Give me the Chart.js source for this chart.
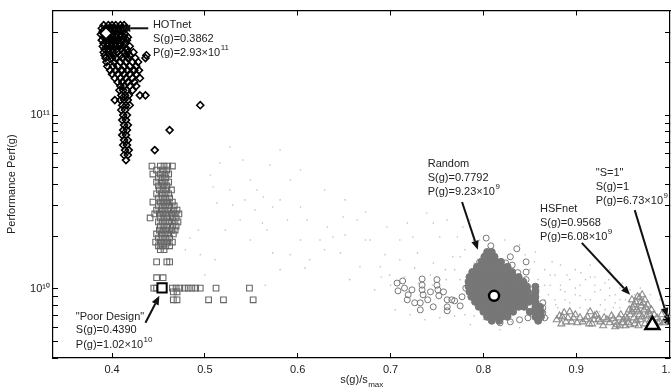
<!DOCTYPE html>
<html><head><meta charset="utf-8">
<script src="https://cdn.jsdelivr.net/npm/chart.js@4"></script>
<style>html,body{margin:0;padding:0;background:#fff;}canvas{display:block;}</style>
</head><body>
<canvas id="c" width="671" height="388"></canvas>
<script>
// ---------------- DATA ----------------
const xTickValues = [0.4, 0.5, 0.6, 0.7, 0.8, 0.9, 1.0];
const yTickValues = [4e9,5e9,6e9,7e9,8e9,9e9,1e10,2e10,3e10,4e10,5e10,6e10,7e10,8e10,9e10,1e11,2e11,3e11,4e11];
const yTickLabels = {1e10: '10\u00B9\u2070', 1e11: '10\u00B9\u00B9'};

// HOTnet family (rows: [Perf, [s/smax ...]])
const hotnetRows = [
 [3.29e11,[0.391,0.396,0.400,0.404,0.409,0.413]],
 [3.16e11,[0.389,0.394,0.398,0.402,0.406,0.411,0.415]],
 [3.04e11,[0.390,0.395,0.399,0.403,0.408,0.412]],
 [2.92e11,[0.388,0.392,0.397,0.401,0.405,0.410,0.414]],
 [2.81e11,[0.391,0.396,0.400,0.404,0.409,0.413,0.417]],
 [2.70e11,[0.389,0.394,0.398,0.402,0.406,0.411,0.416]],
 [2.59e11,[0.391,0.396,0.400,0.404,0.409,0.414]],
 [2.49e11,[0.390,0.395,0.399,0.403,0.408,0.412,0.419]],
 [2.40e11,[0.392,0.397,0.401,0.405,0.410,0.416]],
 [2.30e11,[0.391,0.396,0.400,0.406,0.413,0.417,0.423]],
 [2.21e11,[0.392,0.398,0.402,0.409,0.415,0.419,0.437]],
 [2.13e11,[0.393,0.400,0.404,0.411,0.417,0.425,0.436]],
 [2.02e11,[0.394,0.402,0.409,0.415,0.422,0.428]],
 [1.91e11,[0.395,0.401,0.406,0.413,0.419,0.426]],
 [1.81e11,[0.398,0.404,0.411,0.417,0.424,0.429]],
 [1.72e11,[0.400,0.406,0.413,0.419,0.426]],
 [1.63e11,[0.403,0.409,0.415,0.422,0.430]],
 [1.55e11,[0.406,0.411,0.417,0.424]],
 [1.47e11,[0.409,0.413,0.419,0.426]],
 [1.39e11,[0.408,0.412,0.416,0.422]],
 [1.30e11,[0.410,0.414,0.418,0.430,0.436]],
 [1.22e11,[0.403,0.409,0.413,0.417]],
 [1.14e11,[0.411,0.415,0.419,0.495]],
 [1.07e11,[0.410,0.414]],
 [1.00e11,[0.412,0.416]],
 [9.36e10,[0.411,0.415]],
 [8.76e10,[0.413,0.417]],
 [8.20e10,[0.412,0.416,0.462]],
 [7.67e10,[0.411,0.415]],
 [7.18e10,[0.413,0.417]],
 [6.72e10,[0.412,0.416]],
 [6.29e10,[0.414,0.418,0.446]],
 [5.89e10,[0.413,0.417]],
 [5.51e10,[0.415]]
];

// "Poor Design" family (squares)
const poorRows = [
 [5.09e10,[0.443,0.452,0.456,0.460,0.465]],
 [4.83e10,[0.448,0.455,0.459]],
 [4.58e10,[0.444,0.452,0.457,0.461]],
 [4.35e10,[0.450,0.454,0.458]],
 [4.12e10,[0.448,0.453,0.457,0.461]],
 [3.91e10,[0.450,0.455,0.459]],
 [3.71e10,[0.451,0.455,0.459,0.464]],
 [3.52e10,[0.448,0.453,0.457,0.461]],
 [3.33e10,[0.450,0.454,0.458,0.462]],
 [3.16e10,[0.444,0.452,0.456,0.460,0.465]],
 [3.00e10,[0.450,0.454,0.458,0.462,0.467]],
 [2.84e10,[0.448,0.453,0.457,0.461,0.466,0.470]],
 [2.70e10,[0.446,0.451,0.455,0.459,0.464,0.468,0.472]],
 [2.56e10,[0.441,0.452,0.456,0.460,0.465,0.469]],
 [2.43e10,[0.450,0.454,0.458,0.462,0.467,0.471]],
 [2.30e10,[0.452,0.456,0.460,0.465,0.469]],
 [2.18e10,[0.451,0.455,0.459,0.464,0.468]],
 [2.07e10,[0.448,0.453,0.457,0.461,0.466]],
 [1.96e10,[0.450,0.454,0.458,0.462]],
 [1.86e10,[0.447,0.452,0.456,0.460,0.465]],
 [1.77e10,[0.450,0.454,0.458,0.462]],
 [1.68e10,[0.452,0.456]],
 [1.43e10,[0.448,0.459,0.462]],
 [1.16e10,[0.448,0.455]],
 [1.01e10,[0.445,0.448,0.465,0.469,0.473,0.478,0.482,0.486,0.490,0.495,0.512,0.548]],
 [9.61e9,[0.466,0.470]],
 [8.65e9,[0.466,0.470,0.504,0.520,0.552]]
];

// Random family: dense core and scattered outer circles
const randomCoreRows = [
 [1.63e10,[0.804,0.809]],
 [1.53e10,[0.801,0.806,0.812]],
 [1.43e10,[0.798,0.803,0.808,0.814,0.819]],
 [1.34e10,[0.793,0.799,0.804,0.809,0.815,0.820,0.826]],
 [1.25e10,[0.788,0.793,0.799,0.804,0.809,0.815,0.820,0.826,0.831]],
 [1.17e10,[0.785,0.790,0.795,0.801,0.806,0.811,0.817,0.822,0.828,0.833,0.838]],
 [1.10e10,[0.784,0.789,0.794,0.800,0.805,0.810,0.816,0.821,0.827,0.832,0.837,0.843]],
 [1.03e10,[0.784,0.789,0.794,0.800,0.805,0.810,0.816,0.821,0.827,0.832,0.837,0.843,0.847,0.856]],
 [9.61e9,[0.785,0.790,0.795,0.801,0.806,0.811,0.817,0.822,0.828,0.833,0.838,0.844,0.848,0.856]],
 [9.00e9,[0.787,0.792,0.797,0.803,0.808,0.814,0.819,0.824,0.830,0.835,0.841,0.846,0.850,0.856]],
 [8.42e9,[0.791,0.796,0.802,0.807,0.813,0.818,0.823,0.829,0.834,0.839,0.845,0.849,0.856]],
 [7.88e9,[0.795,0.801,0.806,0.811,0.817,0.822,0.828,0.833,0.838,0.844,0.856,0.861]],
 [7.38e9,[0.800,0.805,0.810,0.816,0.821,0.827,0.832,0.850,0.857,0.862]],
 [6.90e9,[0.804,0.809,0.815,0.820,0.826,0.856,0.862]],
 [6.55e9,[0.809,0.817,0.859]]
];
const randomOuter = [
 [0.707,1.08e10],[0.708,9.74e9],[0.713,1.11e10],[0.715,1.01e10],[0.719,9.24e9],[0.718,8.65e9],
 [0.726,8.31e9],[0.732,8.31e9],[0.732,7.57e9],[0.734,1.14e10],[0.734,1.05e10],[0.734,9.87e9],
 [0.735,9.24e9],[0.743,9.61e9],[0.740,8.65e9],[0.746,7.88e9],[0.750,1.13e10],[0.750,1.05e10],
 [0.751,9.87e9],[0.752,9.12e9],[0.757,9.61e9],[0.761,8.65e9],[0.761,7.88e9],[0.766,8.65e9],
 [0.769,8.53e9],[0.775,7.98e9],[0.761,7.48e9],[0.723,9.87e9],[0.781,1.01e10],[0.777,9.00e9],
 [0.803,1.96e10],[0.808,1.77e10],[0.836,1.70e10],[0.829,1.53e10],[0.846,1.43e10],[0.818,1.34e10],
 [0.824,1.41e10],[0.831,1.37e10],[0.837,1.24e10],[0.846,1.25e10],[0.846,1.13e10],[0.796,1.43e10],
 [0.792,1.29e10],[0.856,1.01e10],[0.856,9.48e9],[0.856,8.88e9],[0.856,8.31e9],[0.856,7.78e9],
 [0.864,8.31e9],[0.864,7.78e9],[0.864,7.28e9],[0.858,7.09e9],[0.850,7.38e9],[0.866,6.81e9],
 [0.848,6.81e9],[0.839,6.64e9],[0.829,6.46e9],[0.818,6.38e9]
];

// HSFnet family (triangles)
const hsfPoints = [
 [0.879,6.64e9],[0.885,6.90e9],[0.889,6.46e9],[0.893,7.38e9],[0.897,6.81e9],[0.901,6.38e9],
 [0.884,6.29e9],[0.912,6.90e9],[0.915,7.38e9],[0.919,6.64e9],[0.922,7.09e9],[0.926,6.46e9],
 [0.917,6.29e9],[0.933,6.64e9],[0.938,6.99e9],[0.942,6.46e9],[0.946,6.81e9],[0.950,6.38e9],
 [0.955,6.73e9],[0.958,7.09e9],[0.961,7.78e9],[0.964,8.42e9],[0.968,8.88e9],[0.971,9.24e9],
 [0.974,8.65e9],[0.977,8.09e9],[0.981,7.57e9],[0.984,7.09e9],[0.987,6.81e9],[0.990,6.46e9],
 [0.962,6.81e9],[0.967,7.38e9],[0.970,7.98e9],[0.973,7.57e9],[0.976,6.99e9],[0.969,6.64e9],
 [0.963,6.29e9],[0.974,6.29e9],[0.980,6.64e9],[0.985,6.21e9],[0.958,6.21e9],[0.953,6.13e9],
 [0.992,7.09e9],[0.996,6.64e9],[0.999,6.81e9],[0.947,6.13e9],[0.942,6.05e9],[0.929,6.13e9],
 [0.904,6.81e9],[0.907,6.46e9],[0.930,6.81e9],[0.957,7.57e9],[0.960,8.65e9],[0.966,9.00e9],
 [0.972,8.31e9],[0.978,7.38e9],[0.960,7.38e9],[0.953,6.90e9],[0.948,7.09e9],
 [0.882,6.99e9],[0.887,7.28e9],[0.891,6.81e9],[0.895,6.46e9],[0.899,7.09e9],[0.910,6.64e9],
 [0.914,6.29e9],[0.920,6.99e9],[0.924,6.64e9],[0.936,6.38e9],[0.940,6.73e9],[0.944,6.21e9],
 [0.951,6.64e9],[0.956,6.38e9],[0.965,6.55e9],[0.967,6.13e9],[0.971,6.90e9],[0.975,7.78e9],
 [0.979,7.09e9],[0.983,6.55e9],[0.988,6.38e9],[0.994,6.38e9],[0.962,8.09e9],[0.965,7.57e9],
 [0.969,8.31e9],[0.968,7.09e9]
];

// light grey cloud of other designs
const otherPoints = [
 [0.516,5.30e10],[0.506,4.52e10],[0.509,3.86e10],[0.513,3.12e10],[0.530,3.04e10],[0.556,3.71e10],
 [0.563,3.38e10],[0.562,2.39e10],[0.567,2.18e10],[0.573,1.61e10],[0.603,1.91e10],[0.632,2.27e10],
 [0.638,1.99e10],[0.649,2.59e10],[0.664,2.49e10],[0.673,2.77e10],[0.678,1.91e10],[0.696,2.27e10],
 [0.710,1.91e10],[0.718,2.39e10],[0.724,1.99e10],[0.739,2.73e10],[0.746,2.39e10],[0.753,1.99e10],
 [0.761,2.49e10],[0.772,1.99e10],[0.778,2.27e10],[0.786,2.49e10],[0.789,1.91e10],[0.767,1.53e10],
 [0.746,1.41e10],[0.729,1.61e10],[0.689,1.34e10],[0.667,1.34e10],[0.646,1.61e10],[0.624,1.91e10],
 [0.589,2.49e10],[0.573,2.96e10],[0.549,4.23e10],[0.541,5.51e10],[0.527,6.55e10],[0.603,2.96e10],
 [0.610,2.49e10],[0.484,1.96e10],[0.479,1.68e10],[0.495,1.57e10],[0.527,3.71e10],[0.581,3.25e10],
 [0.613,1.47e10],[0.656,1.13e10],[0.683,9.87e9],[0.699,1.20e10],[0.705,7.57e9],[0.721,7.09e9],
 [0.737,6.64e9],[0.753,6.81e9],[0.769,6.99e9],[0.786,6.21e9],[0.818,5.81e9],[0.839,5.97e9],
 [0.866,8.65e9],[0.872,1.05e10],[0.877,1.20e10],[0.883,9.87e9],[0.888,8.65e9],[0.893,1.13e10],
 [0.899,9.24e9],[0.904,1.05e10],[0.910,8.65e9],[0.915,1.17e10],[0.920,9.61e9],[0.926,8.09e9],
 [0.931,1.08e10],[0.936,9.12e9],[0.942,8.31e9],[0.947,1.01e10],[0.953,8.65e9],[0.958,9.87e9],
 [0.866,1.29e10],[0.874,1.43e10],[0.859,1.13e10],[0.850,1.29e10],[0.845,1.57e10],[0.883,1.37e10],
 [0.899,1.29e10],[0.915,1.37e10],[0.861,7.57e9],[0.870,6.81e9],[0.878,8.09e9],[0.886,7.57e9],
 [0.904,7.78e9],[0.931,7.57e9],[0.947,7.78e9],[0.969,1.01e10],[0.980,9.24e9],[0.990,8.65e9],
 [0.996,8.09e9],[0.936,1.29e10],[0.856,1.63e10],[0.839,1.79e10],[0.823,1.91e10],[0.796,1.91e10],
 [0.780,1.68e10],[0.769,1.29e10],[0.775,1.13e10],[0.759,1.29e10],[0.743,1.20e10],[0.726,1.32e10],
 [0.710,1.47e10],[0.694,1.57e10],[0.673,1.91e10],[0.651,2.04e10],[0.629,1.68e10],[0.608,1.32e10],
 [0.592,1.57e10],[0.581,1.29e10],[0.565,1.05e10],[0.549,1.91e10],[0.538,2.49e10],[0.522,2.18e10],
 [0.511,1.47e10],[0.500,1.20e10],[0.493,2.18e10],[0.570,5.16e10],[0.592,4.23e10],[0.629,3.71e10],
 [0.651,3.25e10],[0.581,6.29e10],[0.603,4.83e10],[0.543,3.25e10],[0.554,2.84e10],
 [0.870,9.24e9],[0.877,8.65e9],[0.883,1.05e10],[0.888,9.61e9],[0.893,8.31e9],[0.899,1.01e10],
 [0.904,9.12e9],[0.910,1.13e10],[0.915,8.65e9],[0.920,1.05e10],[0.926,9.87e9],[0.931,8.65e9],
 [0.936,1.01e10],[0.942,9.24e9],[0.947,8.65e9],[0.953,9.61e9],[0.958,8.31e9],[0.963,9.24e9],
 [0.880,7.78e9],[0.895,7.38e9],[0.912,7.57e9],[0.925,7.38e9],[0.940,7.78e9],[0.955,7.57e9],
 [0.866,1.05e10],[0.872,1.20e10],[0.890,1.20e10],[0.905,1.24e10],[0.920,1.17e10],[0.935,1.13e10],
 [0.950,1.08e10],[0.790,1.41e10],[0.775,1.53e10],[0.760,1.13e10],[0.745,1.05e10],[0.730,1.08e10],
 [0.715,1.17e10],[0.700,1.05e10],[0.690,1.17e10],[0.780,7.09e9],[0.800,6.64e9],[0.830,6.46e9],
 [0.850,6.99e9],[0.860,9.87e9],[0.845,1.13e10],[0.855,1.43e10],[0.790,6.99e9]
];

// highlighted designs
const hotnetBest = [[0.3935, 2.96e11]];
const poorDesign = [[0.4539, 1.013e10]];
const randomBest = [[0.8115, 9.12e9]];
const hsfBest = [[0.982, 6.2e9]];
const sOne = [[0.999, 6.64e9]];

// annotations: text lines, superscript of last line, text anchor, arrow tail and head (data units)
const annotations = [
 {lines:['HOTnet','S(g)=0.3862','P(g)=2.93\u00D710'], exp:'11', at:[0.444,3.29e11], from:[0.439,3.16e11], to:[0.410,3.16e11]},
 {lines:['"Poor Design"','S(g)=0.4390','P(g)=1.02\u00D710'], exp:'10', at:[0.361,6.90e9], from:[0.436,6.38e9], to:[0.451,9.12e9]},
 {lines:['Random','S(g)=0.7792','P(g)=9.23\u00D710'], exp:'9', at:[0.740,5.23e10], from:[0.777,3.16e10], to:[0.794,1.68e10]},
 {lines:['HSFnet','S(g)=0.9568','P(g)=6.08\u00D710'], exp:'9', at:[0.861,2.88e10], from:[0.906,1.84e10], to:[0.958,9.24e9]},
 {lines:['"S=1"','S(g)=1','P(g)=6.73\u00D710'], exp:'9', at:[0.921,4.64e10], from:[0.963,2.84e10], to:[0.998,6.90e9]}
];
const xTitle = ['s(g)/s', 'max'];
const yTitle = 'Performance Perf(g)';

// ---------------- BUILD ----------------
const FONT = "'Liberation Sans', Arial, Helvetica, sans-serif";
const PLOT_RIGHT = 670;
const rowsToPts = rows => { const p = []; rows.forEach(([y, xs]) => xs.forEach(x => p.push({x, y}))); return p; };
const pairsToPts = arr => arr.map(([x, y]) => ({x, y}));

Chart.defaults.font.family = FONT;
Chart.defaults.font.size = 11;
Chart.defaults.color = '#222';

const setTicks = vals => scale => { scale.ticks = vals.map(v => ({value: v})); };

// keep the plot frame's right edge at the canvas edge (as in the reference, where "1.0" is clipped)
const rightEdgePlugin = {
  id: 'rightEdge',
  afterLayout(chart) {
    const ca = chart.chartArea;
    const R = PLOT_RIGHT;
    ca.right = R; ca.width = R - ca.left;
    ['x', 'xTop'].forEach(id => { const s = chart.scales[id]; s.right = R; s.width = R - s.left; s.configure(); });
    const yr = chart.scales.yRight; yr.left = R; yr.right = R; yr.width = 0; yr.configure();
  }
};

const annotPlugin = {
  id: 'annot',
  afterDatasetsDraw(chart) {
    const {ctx, scales: {x, y}, chartArea} = chart;
    ctx.save();
    const offs = [0, 13.5, 28];
    annotations.forEach(a => {
      const x1 = x.getPixelForValue(a.from[0]), y1 = y.getPixelForValue(a.from[1]);
      const x2 = x.getPixelForValue(a.to[0]), y2 = y.getPixelForValue(a.to[1]);
      const ang = Math.atan2(y2 - y1, x2 - x1);
      const hl = 9, hw = 3.8;
      const bx = x2 - hl * Math.cos(ang), by = y2 - hl * Math.sin(ang);
      ctx.strokeStyle = '#111'; ctx.lineWidth = 2;
      ctx.beginPath(); ctx.moveTo(x1, y1); ctx.lineTo(bx, by); ctx.stroke();
      ctx.fillStyle = '#111';
      ctx.beginPath(); ctx.moveTo(x2, y2);
      ctx.lineTo(bx + hw * Math.sin(ang), by - hw * Math.cos(ang));
      ctx.lineTo(bx - hw * Math.sin(ang), by + hw * Math.cos(ang));
      ctx.closePath(); ctx.fill();
      const tx = x.getPixelForValue(a.at[0]), ty = y.getPixelForValue(a.at[1]);
      ctx.fillStyle = '#222'; ctx.textBaseline = 'middle'; ctx.textAlign = 'left';
      a.lines.forEach((ln, i) => {
        ctx.font = '11px ' + FONT;
        ctx.fillText(ln, tx, ty + offs[i]);
        if (i === a.lines.length - 1) {
          const w = ctx.measureText(ln).width;
          ctx.font = '8px ' + FONT;
          ctx.fillText(a.exp, tx + w + 0.5, ty + offs[i] - 5);
        }
      });
    });
    // x axis title with subscript
    ctx.fillStyle = '#222'; ctx.textBaseline = 'middle'; ctx.textAlign = 'left';
    ctx.font = '11px ' + FONT;
    const w1 = ctx.measureText(xTitle[0]).width;
    ctx.font = '8px ' + FONT;
    const w2 = ctx.measureText(xTitle[1]).width;
    const cx = (chartArea.left + chartArea.right) / 2;
    const sx = cx - (w1 + w2) / 2;
    ctx.font = '11px ' + FONT;
    ctx.fillText(xTitle[0], sx, 380);
    ctx.font = '8px ' + FONT;
    ctx.fillText(xTitle[1], sx + w1 + 0.5, 385);
    ctx.restore();
  }
};

const tickGrid = {drawOnChartArea: false, drawTicks: true, tickLength: -5, color: '#000', lineWidth: 1};
const border = {display: true, color: '#000', width: 1.2};

new Chart(document.getElementById('c'), {
  type: 'scatter',
  data: {
    datasets: [
      {label: 'S=1', data: pairsToPts(sOne), pointStyle: 'star', pointRadius: 5, borderColor: '#000', borderWidth: 1.5, backgroundColor: '#000'},
      {label: 'HSFnet', data: pairsToPts(hsfBest), pointStyle: 'triangle', pointRadius: 8, borderColor: '#000', borderWidth: 2.5, backgroundColor: '#fff'},
      {label: 'Random best', data: pairsToPts(randomBest), pointStyle: 'circle', pointRadius: 5, borderColor: '#000', borderWidth: 2.5, backgroundColor: '#fff'},
      {label: 'Poor Design', data: pairsToPts(poorDesign), pointStyle: 'rect', pointRadius: 6.5, borderColor: '#000', borderWidth: 2, backgroundColor: '#fff'},
      {label: 'HOTnet best', data: pairsToPts(hotnetBest), pointStyle: 'rectRot', pointRadius: 6, borderColor: '#000', borderWidth: 2, backgroundColor: '#fff'},
      {label: 'HOTnet family', data: rowsToPts(hotnetRows), pointStyle: 'rectRot', pointRadius: 3.5, borderColor: '#000', borderWidth: 1.6, backgroundColor: 'rgba(0,0,0,0)'},
      {label: 'Poor family', data: rowsToPts(poorRows), pointStyle: 'rect', pointRadius: 4, borderColor: '#666', borderWidth: 1.1, backgroundColor: 'rgba(255,255,255,0)'},
      {label: 'Random outer', data: pairsToPts(randomOuter), pointStyle: 'circle', pointRadius: 3, borderColor: '#777', borderWidth: 1, backgroundColor: 'rgba(255,255,255,0)'},
      {label: 'Random core', data: rowsToPts(randomCoreRows), pointStyle: 'circle', pointRadius: 3.5, borderColor: '#777', borderWidth: 1, backgroundColor: '#777'},
      {label: 'HSF family', data: pairsToPts(hsfPoints), pointStyle: 'triangle', pointRadius: 4, borderColor: '#8c8c8c', borderWidth: 1.1, backgroundColor: 'rgba(255,255,255,0)'},
      {label: 'others', data: pairsToPts(otherPoints), pointStyle: 'circle', pointRadius: 0.8, borderWidth: 0, backgroundColor: '#bdbdbd'}
    ]
  },
  options: {
    responsive: false,
    animation: false,
    devicePixelRatio: 1,
    events: [],
    layout: {padding: {top: 10, right: 1, left: 0, bottom: 0}},
    plugins: {legend: {display: false}, tooltip: {enabled: false}},
    scales: {
      x: {
        type: 'linear', position: 'bottom', min: 0.3364, max: 1.001,
        afterBuildTicks: setTicks(xTickValues),
        afterFit: s => { s.height = 30; s.paddingLeft = 0; s.paddingRight = 0; },
        ticks: {padding: 10, color: '#222', font: {size: 11}, callback: v => v.toFixed(1)},
        grid: tickGrid, border: border
      },
      xTop: {
        type: 'linear', position: 'top', min: 0.3364, max: 1.001,
        afterBuildTicks: setTicks(xTickValues),
        afterFit: s => { s.height = 0; s.paddingLeft = 0; s.paddingRight = 0; },
        ticks: {display: false}, grid: tickGrid, border: border
      },
      y: {
        type: 'logarithmic', position: 'left', min: 4e9, max: 4e11,
        afterBuildTicks: setTicks(yTickValues),
        afterFit: s => { s.width = 53; s.paddingTop = 0; s.paddingBottom = 0; },
        ticks: {padding: 8, color: '#222', font: {size: 11}, autoSkip: false, callback: v => yTickLabels[v] || ''},
        grid: tickGrid, border: border,
        title: {display: true, text: yTitle, color: '#222', font: {size: 11}, padding: {top: 5, bottom: 0}}
      },
      yRight: {
        type: 'logarithmic', position: 'right', min: 4e9, max: 4e11,
        afterBuildTicks: setTicks(yTickValues),
        afterFit: s => { s.width = 0; s.paddingTop = 0; s.paddingBottom = 0; },
        ticks: {display: false}, grid: tickGrid, border: border
      }
    }
  },
  plugins: [rightEdgePlugin, annotPlugin]
});
</script>
</body></html>
